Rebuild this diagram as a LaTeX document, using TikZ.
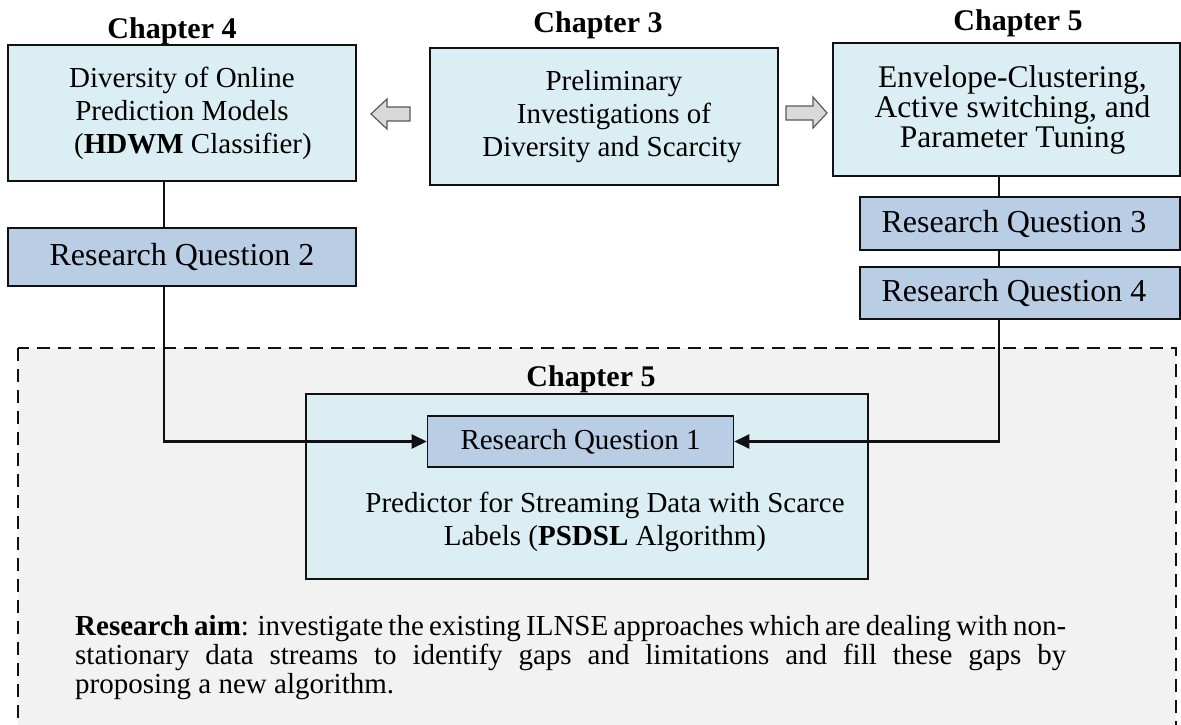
\documentclass[tikz,border=0pt]{standalone}
\usepackage{fontspec}
\setmainfont{Liberation Serif}
\usetikzlibrary{arrows.meta}
\definecolor{paleblue}{HTML}{DAEEF3}
\definecolor{rqblue}{HTML}{B9CDE5}
\definecolor{panelgrey}{HTML}{F2F2F2}
\definecolor{arrowgrey}{HTML}{D9D9D9}
\definecolor{edgegrey}{HTML}{595959}
\definecolor{ink}{HTML}{111111}

\begin{document}
\begin{tikzpicture}[x=1pt,y=-1pt,
  chapbox/.style={draw=ink, line width=2pt, fill=paleblue, inner sep=0pt,
    align=center, font=\fontsize{29}{33}\selectfont},
  rqbox/.style={draw=ink, line width=2pt, fill=rqblue, inner sep=0pt,
    font=\fontsize{32}{36}\selectfont},
  chaplabel/.style={anchor=base, inner sep=0pt, font=\fontsize{30}{34}\selectfont\bfseries},
  link/.style={draw=ink, line width=2.5pt},
  tip/.style={-{Triangle[length=15pt,width=14pt]}},
  hollow/.style={draw=edgegrey, line width=1.2pt, fill=arrowgrey, line join=miter},
  panel/.style={draw=ink, line width=1.4pt, dash pattern=on 13pt off 8pt, fill=panelgrey}]

\useasboundingbox (0,0) rectangle (1181,725);

% shaded research-aim panel
\path[panel] (18,348) rectangle (1176,760);

% chapter headings
\node[chaplabel] (h4) at (172,39) {Chapter 4};
\node[chaplabel] (h3) at (598,33) {Chapter 3};
\node[chaplabel] (h5) at (1018,31) {Chapter 5};
\node[chaplabel] (h5b) at (591,386) {Chapter 5};

% chapter boxes
\node[chapbox, minimum width=348pt, minimum height=136pt] (ch4) at (182,113)
  {Diversity of Online\\Prediction Models\\\hspace*{22pt}(\textbf{HDWM} Classifier)};
\node[chapbox, minimum width=348pt, minimum height=137pt] (ch3) at (604,116.5)
  {\hspace*{20pt}Preliminary\\\hspace*{20pt}Investigations of\\\hspace*{16pt}Diversity and Scarcity};
\node[chapbox, minimum width=347pt, minimum height=132pt,
  font=\fontsize{31.5}{30}\selectfont] (ch5) at (1006.5,109.5)
  {\hspace*{12pt}Envelope-Clustering,\\\hspace*{12pt}Active switching, and\\\hspace*{12pt}Parameter Tuning};

% research-question boxes
\node[rqbox, minimum width=348pt, minimum height=58pt] (rq2) at (182,257) {Research Question 2};
\node[rqbox, minimum width=320pt, minimum height=53pt] (rq3) at (1020,223.5) {Research Question 3\hspace*{12pt}};
\node[rqbox, minimum width=320pt, minimum height=52pt] (rq4) at (1020,293) {Research Question 4\hspace*{12pt}};

% PSDSL block with its inner question
\node[chapbox, line width=1.6pt, minimum width=562pt, minimum height=185pt] (psdsl) at (587,486.5) {};
\node[rqbox, line width=1.6pt, minimum width=306pt, minimum height=51pt,
  font=\fontsize{29}{33}\selectfont] (rq1) at (580.5,441.5) {Research Question 1};
\node[align=center, inner sep=0pt, anchor=base, font=\fontsize{29}{33}\selectfont] (psdsltxt) at (605,545)
  {Predictor for Streaming Data with Scarce\\Labels (\textbf{PSDSL} Algorithm)};

% research aim paragraph
\node[align=left, inner sep=0pt, anchor=base west, font=\fontsize{29}{29}\selectfont] (aim) at (75,693)
  {\makebox[991pt][s]{\textbf{Research aim}: investigate the existing ILNSE approaches which are dealing with non-}\\
   \makebox[991pt][s]{stationary data streams to identify gaps and limitations and fill these gaps by}\\
   proposing a new algorithm.};

% block arrows leading out of Chapter 3
\path[hollow] (371,114) -- (387,99) -- (387,107) -- (410,107) -- (410,121)
  -- (387,121) -- (387,129) -- cycle;
\path[hollow] (827,113) -- (813,97) -- (813,106) -- (786,106) -- (786,120)
  -- (813,120) -- (813,128) -- cycle;

% connectors
\coordinate (lx) at (164,0);
\coordinate (rx) at (999,0);
\draw[link] (ch4.south -| lx) -- (rq2.north -| lx);
\draw[link, tip] (rq2.south -| lx) |- (rq1.west);
\draw[link] (ch5.south -| rx) -- (rq3.north -| rx);
\draw[link] (rq3.south -| rx) -- (rq4.north -| rx);
\draw[link, tip] (rq4.south -| rx) |- (rq1.east);
\end{tikzpicture}
\end{document}
